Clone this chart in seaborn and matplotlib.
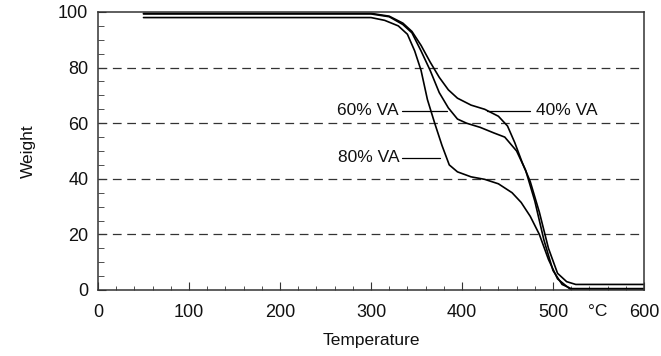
import pandas as pd
import numpy as np
import matplotlib.pyplot as plt
from matplotlib.ticker import MultipleLocator
import matplotlib.transforms as mtransforms
import seaborn as sns

# TGA curves (temperature in degC, weight in %)
temp_40 = [50, 300, 320, 335, 345, 355, 365, 375, 385, 395, 410, 425, 440, 450,
           458, 466, 475, 485, 495, 505, 515, 525, 600]
weight_40 = [99.5, 99.5, 98.5, 96, 93, 88, 82, 76.5, 72, 69, 66.5, 65, 62.5, 59,
             53, 46, 39, 28, 15, 6, 3, 2, 2]

temp_60 = [50, 300, 320, 335, 345, 355, 365, 375, 385, 395, 405, 420, 435, 447,
           460, 470, 480, 490, 500, 510, 520, 600]
weight_60 = [99.3, 99.3, 98.3, 95.5, 92.5, 86, 79, 71, 65.5, 61.5, 60, 58.5, 56.5, 55,
             50, 43, 32, 18, 7, 2, 0.5, 0.5]

temp_80 = [50, 300, 315, 330, 340, 348, 355, 362, 370, 378, 386, 395, 410, 425,
           440, 455, 465, 475, 485, 495, 505, 520, 600]
weight_80 = [98, 98, 97, 95, 92, 86, 79, 68.5, 60, 52, 45, 42.5, 40.7, 39.8,
             38.2, 35, 31.5, 26.5, 20, 11, 4, 0, 0]

series_names = ["40% VA", "60% VA", "80% VA"]

# label text position (x, y) and leader line (x0, x1, y)
label_pos = {"60% VA": (330, 64.5), "40% VA": (481, 64.5), "80% VA": (331, 47.5)}
leader = {"60% VA": (334, 384, 64.5), "40% VA": (428, 475, 64.5), "80% VA": (334, 376, 47.5)}

df = pd.concat([
    pd.DataFrame({"Temperature": temp_40, "Weight": weight_40, "series": "40% VA"}),
    pd.DataFrame({"Temperature": temp_60, "Weight": weight_60, "series": "60% VA"}),
    pd.DataFrame({"Temperature": temp_80, "Weight": weight_80, "series": "80% VA"}),
])

sns.set_style("ticks")
plt.rcParams['font.family'] = ['Liberation Sans', 'DejaVu Sans']

fig = plt.figure(figsize=(6.61, 3.56), dpi=100)
ax = fig.add_axes([98 / 661, 1 - 290 / 356, 546 / 661, 278 / 356])

sns.lineplot(data=df, x="Temperature", y="Weight", units="series", estimator=None,
             color="black", linewidth=1.2, sort=False, ax=ax, legend=False)

# dashed reference lines
for yv in [20, 40, 60, 80]:
    ax.axhline(yv, color="#333333", linestyle=(0, (7, 4.5)), linewidth=0.9, zorder=0)

# curve labels
for name in series_names:
    tx, ty = label_pos[name]
    ha = "left" if name == "40% VA" else "right"
    ax.text(tx, ty, name, ha=ha, va="center", fontsize=12.5, color="#111111")
    x0, x1, yl = leader[name]
    ax.plot([x0, x1], [yl, yl], color="black", linewidth=0.9)

ax.set_xlim(0, 600)
ax.set_ylim(0, 100)
ax.xaxis.set_major_locator(MultipleLocator(100))
ax.xaxis.set_minor_locator(MultipleLocator(20))
ax.yaxis.set_major_locator(MultipleLocator(20))
ax.yaxis.set_minor_locator(MultipleLocator(5))
ax.tick_params(which="both", direction="in", top=False, right=False, color="#333333",
               labelsize=13, labelcolor="#111111")
ax.tick_params(axis="x", which="major", length=6, pad=10)
ax.tick_params(axis="x", which="minor", length=3)
ax.tick_params(axis="y", which="major", length=6, pad=7)
ax.tick_params(axis="y", which="minor", length=4)
ax.set_xticks([0, 100, 200, 300, 400, 500, 600])
ax.set_yticks([0, 20, 40, 60, 80, 100])

for sp in ax.spines.values():
    sp.set_visible(True)
    sp.set_color("#333333")
    sp.set_linewidth(1.1)

# unit label between 500 and 600 on the tick-label row
trans = mtransforms.blended_transform_factory(ax.transData, ax.transAxes)
ax.text(549, -0.077, "°C", transform=trans, ha="center", va="center", fontsize=12.5,
        color="#111111")

ax.set_xlabel("Temperature", fontsize=12.5, labelpad=9, color="#111111")
ax.set_ylabel("Weight", fontsize=12.5, labelpad=16, color="#111111")

fig.savefig("out.png", dpi=100)
